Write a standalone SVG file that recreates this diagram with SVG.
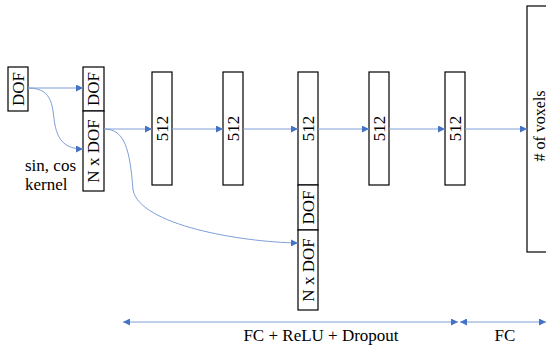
<svg xmlns="http://www.w3.org/2000/svg" width="546" height="345" viewBox="0 0 546 345">
<defs>
<marker id="ah" viewBox="0 0 10 10" refX="10" refY="5" markerWidth="7" markerHeight="7" orient="auto-start-reverse" markerUnits="userSpaceOnUse">
<path d="M0,0 L10,5 L0,10 z" fill="#4472C4"/>
</marker>
<style>
.box{fill:#fff;stroke:#000;stroke-width:1.2}
.t{font-family:"Liberation Serif","Times New Roman",serif;font-size:17px;fill:#000}
.c{fill:none;stroke:#7F9FD8;stroke-width:1;marker-end:url(#ah)}
</style>
</defs>
<rect width="546" height="345" fill="#fff"/>
<g id="in_dof"><rect class="box" x="8" y="67" width="20" height="44"/><text class="t" text-anchor="middle" dominant-baseline="central" transform="translate(18,89) rotate(-90)">DOF</text></g>
<g id="enc_dof"><rect class="box" x="83" y="67" width="21" height="44"/><text class="t" text-anchor="middle" dominant-baseline="central" transform="translate(93.5,89) rotate(-90)">DOF</text></g>
<g id="enc_ndof"><rect class="box" x="83" y="111" width="21" height="80"/><text class="t" text-anchor="middle" dominant-baseline="central" transform="translate(93.5,151) rotate(-90)">N x DOF</text></g>
<g id="kernel_label"><text class="t" x="25" y="171">sin, cos</text><text class="t" x="25" y="190">kernel</text></g>
<g id="fc1"><rect class="box" x="152" y="72" width="20" height="113"/><text class="t" text-anchor="middle" dominant-baseline="central" transform="translate(162,128.5) rotate(-90)">512</text></g>
<g id="fc2"><rect class="box" x="223" y="72" width="20" height="113"/><text class="t" text-anchor="middle" dominant-baseline="central" transform="translate(233,128.5) rotate(-90)">512</text></g>
<g id="fc3"><rect class="box" x="298" y="72" width="20" height="113"/><text class="t" text-anchor="middle" dominant-baseline="central" transform="translate(308,128.5) rotate(-90)">512</text></g>
<g id="skip_dof"><rect class="box" x="298" y="185" width="20" height="45"/><text class="t" text-anchor="middle" dominant-baseline="central" transform="translate(308,207.5) rotate(-90)">DOF</text></g>
<g id="skip_ndof"><rect class="box" x="298" y="230" width="20" height="80"/><text class="t" text-anchor="middle" dominant-baseline="central" transform="translate(308,270) rotate(-90)">N x DOF</text></g>
<g id="fc4"><rect class="box" x="369" y="72" width="20" height="113"/><text class="t" text-anchor="middle" dominant-baseline="central" transform="translate(379,128.5) rotate(-90)">512</text></g>
<g id="fc5"><rect class="box" x="445" y="72" width="20" height="113"/><text class="t" text-anchor="middle" dominant-baseline="central" transform="translate(455,128.5) rotate(-90)">512</text></g>
<g id="out"><rect class="box" x="527" y="6" width="30" height="246"/><text class="t" style="font-size:16px" text-anchor="middle" dominant-baseline="central" transform="translate(539,126) rotate(-90)"># of voxels</text></g>
<g id="connectors">
<path class="c" d="M28,88 L83,88"/>
<path class="c" d="M28,88 C55,88 52,110 55,125 C58,140 65,149 83,149"/>
<path class="c" d="M104,129 L152,129"/>
<path class="c" d="M172,129 L223,129"/>
<path class="c" d="M243,129 L298,129"/>
<path class="c" d="M318,129 L369,129"/>
<path class="c" d="M389,129 L445,129"/>
<path class="c" d="M465,129 L527,129"/>
<path class="c" d="M104,129 C125,129 130,150 133,190 C140,225 240,242 298,243"/>
<path class="c" style="marker-start:url(#ah)" d="M123,322 L458,322"/>
<path class="c" style="marker-start:url(#ah)" d="M460,322 L546,322"/>
</g>
<g id="labels"><text class="t" x="321" y="341" text-anchor="middle">FC + ReLU + Dropout</text><text class="t" x="505" y="341" text-anchor="middle">FC</text></g>
</svg>
